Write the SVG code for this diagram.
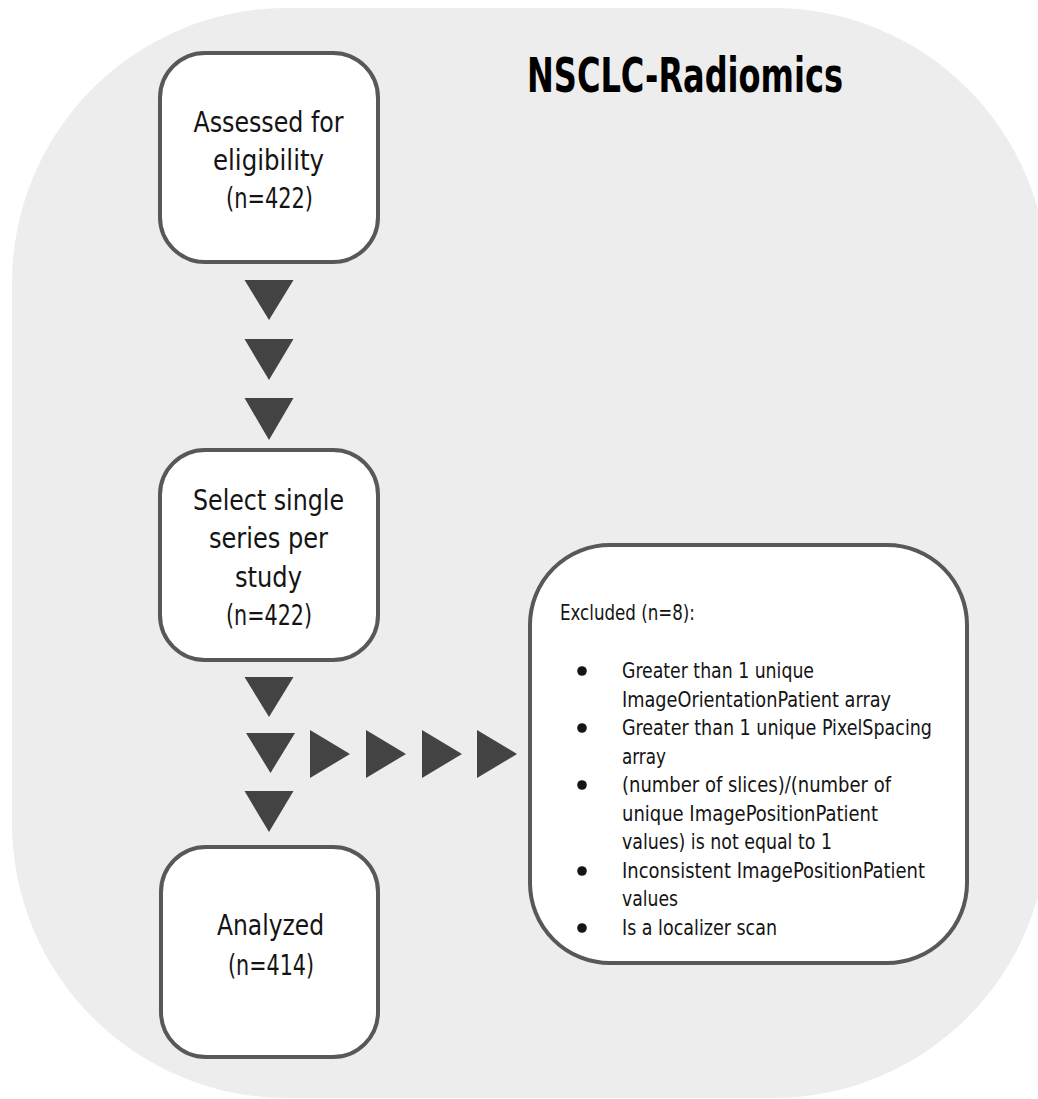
<svg xmlns="http://www.w3.org/2000/svg" width="1038" height="1099" viewBox="0 0 1038 1099">
<defs>
<style>
.bg{fill:#ededed}
.box{fill:#ffffff;stroke:#585858;stroke-width:4}
.t{font-family:"DejaVu Sans Condensed","DejaVu Sans",sans-serif;font-stretch:condensed;fill:#141414}
.n{font-size:28px;text-anchor:middle}
.s{font-size:21px}
.title{font-family:"DejaVu Sans Condensed","DejaVu Sans",sans-serif;font-stretch:condensed;font-weight:bold;font-size:48px;fill:#000}
.arr{fill:#434343}
.dot{fill:#141414}
</style>
</defs>
<rect class="bg" x="12" y="8" width="1036" height="1090" rx="275" ry="275"/>
<text class="title" x="527" y="92" textLength="316" lengthAdjust="spacingAndGlyphs">NSCLC-Radiomics</text>
<g id="connectors">
<polygon class="arr" points="244.5,280 293.5,280 269,320"/>
<polygon class="arr" points="244.5,339 293.5,339 269,380"/>
<polygon class="arr" points="244.5,398 293.5,398 269,440"/>
<polygon class="arr" points="244.5,677 293.5,677 269,717"/>
<polygon class="arr" points="246,733 295,733 270.5,773"/>
<polygon class="arr" points="244.5,791 293.5,791 269,832"/>
<polygon class="arr" points="310,730 350,754 310,778"/>
<polygon class="arr" points="366,730 406,754 366,778"/>
<polygon class="arr" points="422,730 462,754 422,778"/>
<polygon class="arr" points="477,730 517,754 477,778"/>
</g>
<g id="node-assessed">
<rect class="box" x="160" y="53" width="218" height="209" rx="45"/>
<text class="t n" x="268.5" y="132" textLength="150" lengthAdjust="spacingAndGlyphs">Assessed for</text>
<text class="t n" x="268.5" y="170" textLength="111" lengthAdjust="spacingAndGlyphs">eligibility</text>
<text class="t n" x="269.5" y="208" textLength="87" lengthAdjust="spacingAndGlyphs">(n=422)</text>
</g>
<g id="node-select">
<rect class="box" x="160" y="450" width="218" height="210" rx="45"/>
<text class="t n" x="268.5" y="510" textLength="151" lengthAdjust="spacingAndGlyphs">Select single</text>
<text class="t n" x="268.5" y="548" textLength="119" lengthAdjust="spacingAndGlyphs">series per</text>
<text class="t n" x="268.5" y="587" textLength="67" lengthAdjust="spacingAndGlyphs">study</text>
<text class="t n" x="269" y="625" textLength="86" lengthAdjust="spacingAndGlyphs">(n=422)</text>
</g>
<g id="node-analyzed">
<rect class="box" x="161" y="847" width="217" height="210" rx="45"/>
<text class="t n" x="270.5" y="935" textLength="107" lengthAdjust="spacingAndGlyphs">Analyzed</text>
<text class="t n" x="271" y="975" textLength="86" lengthAdjust="spacingAndGlyphs">(n=414)</text>
</g>
<g id="node-excluded">
<rect class="box" x="530" y="545" width="437" height="418" rx="80"/>
<text class="t s" x="560" y="620" textLength="135" lengthAdjust="spacingAndGlyphs">Excluded (n=8):</text>
<circle class="dot" cx="582" cy="671" r="4.8"/>
<circle class="dot" cx="582" cy="728" r="4.8"/>
<circle class="dot" cx="582" cy="785" r="4.8"/>
<circle class="dot" cx="582" cy="871" r="4.8"/>
<circle class="dot" cx="582" cy="928" r="4.8"/>
<text class="t s" x="622" y="678" textLength="192" lengthAdjust="spacingAndGlyphs">Greater than 1 unique</text>
<text class="t s" x="622" y="706.5" textLength="269" lengthAdjust="spacingAndGlyphs">ImageOrientationPatient array</text>
<text class="t s" x="622" y="735" textLength="310" lengthAdjust="spacingAndGlyphs">Greater than 1 unique PixelSpacing</text>
<text class="t s" x="622" y="763.5" textLength="44" lengthAdjust="spacingAndGlyphs">array</text>
<text class="t s" x="622" y="792" textLength="269" lengthAdjust="spacingAndGlyphs">(number of slices)/(number of</text>
<text class="t s" x="622" y="820.5" textLength="256" lengthAdjust="spacingAndGlyphs">unique ImagePositionPatient</text>
<text class="t s" x="622" y="849" textLength="210" lengthAdjust="spacingAndGlyphs">values) is not equal to 1</text>
<text class="t s" x="622" y="877.5" textLength="303" lengthAdjust="spacingAndGlyphs">Inconsistent ImagePositionPatient</text>
<text class="t s" x="622" y="906" textLength="56" lengthAdjust="spacingAndGlyphs">values</text>
<text class="t s" x="622" y="934.5" textLength="155" lengthAdjust="spacingAndGlyphs">Is a localizer scan</text>
</g>
</svg>
